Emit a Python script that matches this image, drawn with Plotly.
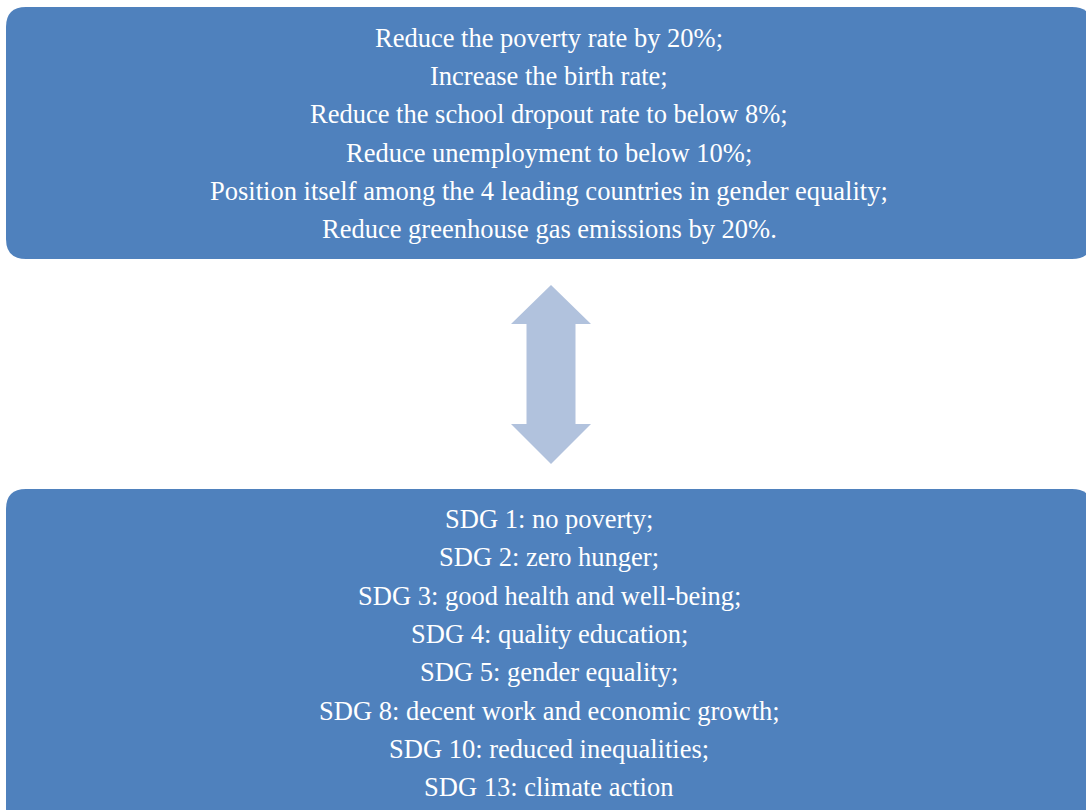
import plotly.graph_objects as go

W, H = 1086, 810

top_lines = [
    "Reduce the poverty rate by 20%;",
    "Increase the birth rate;",
    "Reduce the school dropout rate to below 8%;",
    "Reduce unemployment to below 10%;",
    "Position itself among the 4 leading countries in gender equality;",
    "Reduce greenhouse gas emissions by 20%.",
]
bottom_lines = [
    "SDG 1: no poverty;",
    "SDG 2: zero hunger;",
    "SDG 3: good health and well-being;",
    "SDG 4: quality education;",
    "SDG 5: gender equality;",
    "SDG 8: decent work and economic growth;",
    "SDG 10: reduced inequalities;",
    "SDG 13: climate action",
]

BOX = "#4F81BD"
ARROW = "#B1C2DD"
FONT = "Times New Roman, Liberation Serif, serif"
FSIZE = 26.5


def rounded_rect(x0, y0, x1, y1, r):
    return (f"M {x0+r},{y0} L {x1-r},{y0} Q {x1},{y0} {x1},{y0+r} "
            f"L {x1},{y1-r} Q {x1},{y1} {x1-r},{y1} L {x0+r},{y1} "
            f"Q {x0},{y1} {x0},{y1-r} L {x0},{y0+r} Q {x0},{y0} {x0+r},{y0} Z")


def double_arrow(cx, tip_top, head_top_base, head_bot_base, tip_bot, half_head, half_shaft):
    return (f"M {cx},{tip_top} L {cx+half_head},{head_top_base} L {cx+half_shaft},{head_top_base} "
            f"L {cx+half_shaft},{head_bot_base} L {cx+half_head},{head_bot_base} L {cx},{tip_bot} "
            f"L {cx-half_head},{head_bot_base} L {cx-half_shaft},{head_bot_base} "
            f"L {cx-half_shaft},{head_top_base} L {cx-half_head},{head_top_base} Z")


fig = go.Figure()

shapes = [
    dict(type="path", path=rounded_rect(6, 7, 1092, 259, 20),
         fillcolor=BOX, line=dict(width=0), xref="x", yref="y", layer="below"),
    dict(type="path", path=rounded_rect(6, 489, 1092, 828, 20),
         fillcolor=BOX, line=dict(width=0), xref="x", yref="y", layer="below"),
    dict(type="path", path=double_arrow(551, 285, 324, 424, 464, 40, 24.5),
         fillcolor=ARROW, line=dict(width=0), xref="x", yref="y", layer="below"),
]

annotations = []
for i, t in enumerate(top_lines):
    annotations.append(dict(x=549, y=38 + i * 38.2, text=t, showarrow=False,
                            xref="x", yref="y", xanchor="center", yanchor="middle",
                            font=dict(family=FONT, size=FSIZE, color="white")))
for i, t in enumerate(bottom_lines):
    annotations.append(dict(x=549, y=519 + i * 38.3, text=t, showarrow=False,
                            xref="x", yref="y", xanchor="center", yanchor="middle",
                            font=dict(family=FONT, size=FSIZE, color="white")))

fig.update_layout(
    width=W, height=H,
    margin=dict(l=0, r=0, t=0, b=0),
    paper_bgcolor="white", plot_bgcolor="white",
    xaxis=dict(range=[0, W], visible=False, fixedrange=True),
    yaxis=dict(range=[H, 0], visible=False, fixedrange=True),
    shapes=shapes, annotations=annotations, showlegend=False,
)

fig.write_html("out.html", config={"displayModeBar": False},
               post_script="document.body.style.margin='0';document.body.style.overflow='hidden';")
